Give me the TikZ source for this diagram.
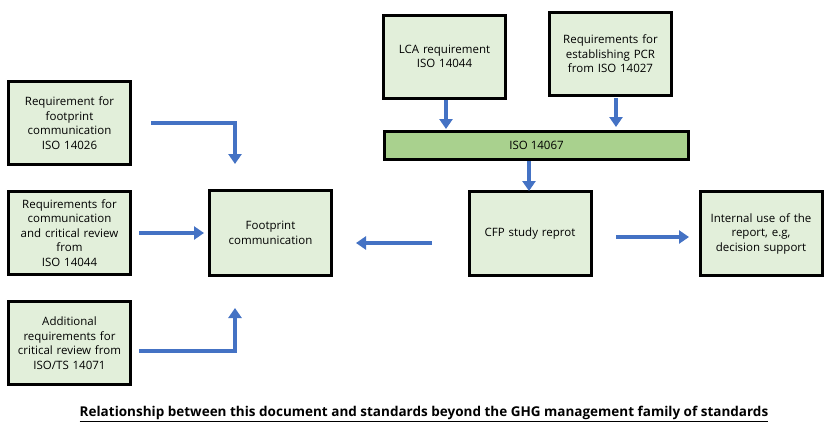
\documentclass[tikz,border=0pt]{standalone}
\usepackage{fontspec}
\setmainfont{Open Sans}
\usetikzlibrary{arrows.meta,calc}
\definecolor{boxfill}{HTML}{E2EFDA}
\definecolor{barfill}{HTML}{A9D18E}
\definecolor{arrblue}{HTML}{4472C4}
\begin{document}
\begin{tikzpicture}[x=1pt,y=-1pt,
  stdbox/.style={draw=black,line width=3pt,fill=boxfill,minimum width=120pt,minimum height=83pt,inner sep=2pt,align=center,text width=118pt,font=\fontsize{11.5}{14.5}\selectfont},
  barbox/.style={draw=black,line width=3pt,fill=barfill,minimum width=304pt,minimum height=28pt,inner sep=0pt,align=center,font=\fontsize{11.5}{14.5}\selectfont},
  arr/.style={draw=arrblue,line width=4pt,-{Triangle[length=10pt,width=13pt]}}]
\useasboundingbox (0,0) rectangle (835,437);
\fill[white] (0,0) rectangle (835,437);
\node[stdbox] (b1) at (69.5,123) {Requirement for\\footprint\\communication\\ISO 14026};
\node[stdbox] (b2) at (69.5,233) {Requirements for\\communication\\and critical review\\from\\ISO 14044};
\node[stdbox] (b3) at (69.5,343) {Additional\\requirements for\\critical review from\\ISO/TS 14071};
\node[stdbox,minimum width=122pt,minimum height=85pt] (fc) at (270.5,233) {Footprint\\communication};
\node[stdbox] (lca) at (444.5,56.5) {LCA requirement\\ISO 14044};
\node[stdbox] (pcr) at (610.5,54) {Requirements for\\establishing PCR\\from ISO 14027};
\node[barbox] (iso) at (536.5,145) {ISO 14067};
\node[stdbox,minimum height=84pt] (cfp) at (530,233.5) {CFP study reprot};
\node[stdbox,minimum height=84pt] (iu) at (761,233.5) {Internal use of the\\report, e.g,\\decision support};
\coordinate (t1) at (235,164);
\coordinate (t3) at (235,308);
\coordinate (s2) at (139,233);
\coordinate (e2) at (204,233);
\coordinate (s3) at (139,351);
\coordinate (sl) at (446,100);
\coordinate (el) at (446,129);
\coordinate (sp) at (616,98);
\coordinate (ep) at (616,127);
\coordinate (si) at (529,161);
\coordinate (ei) at (529,191);
\coordinate (sc) at (432,243);
\coordinate (ec) at (356,243);
\coordinate (sr) at (616,237);
\coordinate (er) at (689,237);
\draw[arr] ($(b1.east)+(19,0)$) -| (t1);
\draw[arr] (s2) -- (e2);
\draw[arr] (s3) -| (t3);
\draw[arr] (sl) -- (el);
\draw[arr] (sp) -- (ep);
\draw[arr] (si) -- (ei);
\draw[arr] (sc) -- (ec);
\draw[arr] (sr) -- (er);
\node[font=\fontsize{13.5}{16}\selectfont\bfseries,inner sep=0pt] (cap) at (424,414) {\underline{Relationship between this document and standards beyond the GHG management family of standards}};
\end{tikzpicture}
\end{document}
